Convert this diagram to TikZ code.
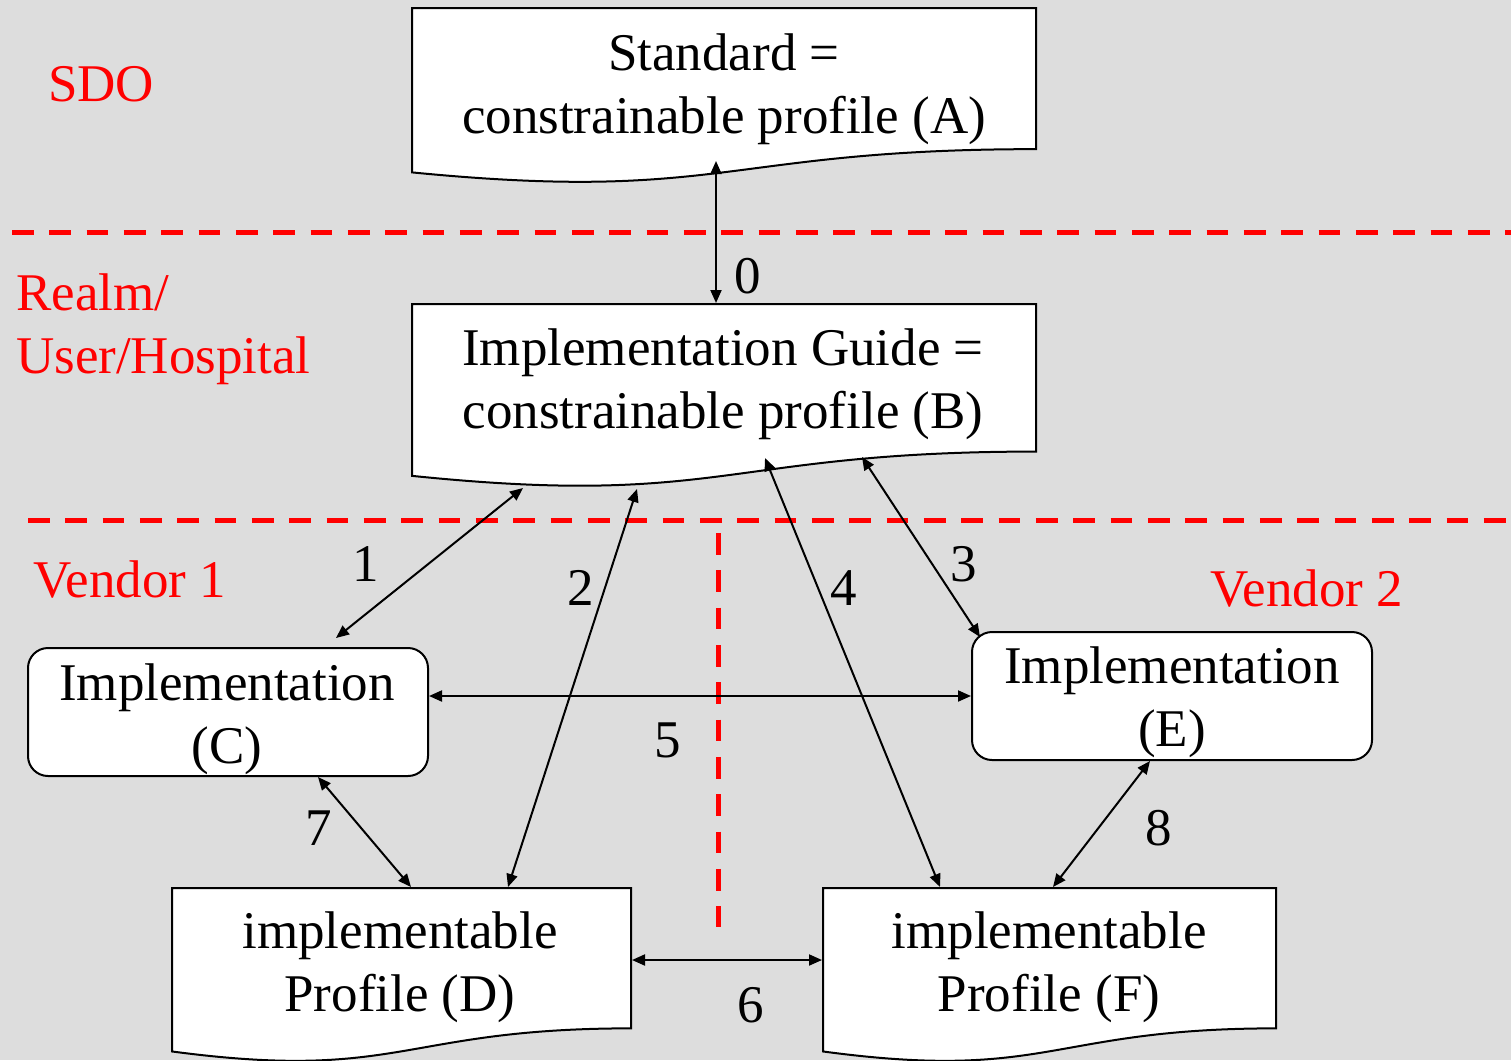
\documentclass[tikz,border=0pt]{standalone}
\usepackage{fontspec}
\setmainfont{Liberation Serif}
\usetikzlibrary{arrows.meta}
\definecolor{bg}{RGB}{221,221,221}
\definecolor{myred}{RGB}{255,0,0}
\newcommand{\twol}[2]{\begin{tabular}[t]{@{}c@{}}#1\\#2\end{tabular}}
\newcommand{\twoleft}[2]{\begin{tabular}[t]{@{}l@{}}#1\\#2\end{tabular}}
\newcommand{\docpath}[4]{%
  \path[docbox] (#1,#2) -- (#3,#2) -- (#3,{#2+0.802*#4})
    .. controls ({(#1+#3)/2},{#2+0.802*#4}) and ({(#1+#3)/2},{#2+1.108*#4}) .. (#1,{#2+0.934*#4}) -- cycle;}
\begin{document}
\begin{tikzpicture}[x=1pt,y=-1pt,
  lbl/.style={font=\fontsize{53}{63}\selectfont, inner sep=0pt, anchor=base},
  redlbl/.style={lbl, text=myred, anchor=base west},
  docbox/.style={draw=black, fill=white, line width=2pt},
  impl/.style={draw=black, fill=white, line width=2pt, rounded corners=20pt, minimum width=400pt, minimum height=128pt, inner sep=0pt},
  conn/.style={line width=2pt, {Triangle[length=13pt,width=11pt]}-{Triangle[length=13pt,width=11pt]}},
  sep/.style={draw=myred, line width=5pt, dash pattern=on 21.7pt off 15.63pt}]
\useasboundingbox (0,0) rectangle (1511,1060);
\fill[bg] (0,0) rectangle (1511,1060);
\begin{scope}
\clip (0,0) rectangle (1511,1060);
% separators
\draw[sep] (12,232) -- (1520,232);
\draw[sep] (28,520) -- (1520,520);
\draw[sep] (718,533) -- (718,927);
% document boxes
\docpath{412}{8}{1036}{176}
\docpath{412}{304}{1036}{184}
\docpath{172}{888}{631}{175}
\docpath{823}{888}{1276}{175}
\end{scope}
% rounded boxes
\node[impl] (C) at (228,712) {};
\node[impl] (E) at (1172,696) {};
% texts
\node[lbl] (A) at (724,70) {\twol{Standard =}{constrainable profile (A)}};
\node[lbl] (B) at (723,365) {\twol{Implementation Guide =}{constrainable profile (B)}};
\node[lbl] (Ct) at (227,700) {\twol{Implementation}{(C)}};
\node[lbl] (Et) at (1172,683) {\twol{Implementation}{(E)}};
\node[lbl] (D) at (400,948) {\twol{implementable}{Profile (D)}};
\node[lbl] (F) at (1049,948) {\twol{implementable}{Profile (F)}};
% red labels
\node[redlbl] (sdo) at (48,101) {SDO};
\node[redlbl] (realm) at (16,310) {\twoleft{Realm/}{User/Hospital}};
\node[redlbl] (v1) at (33,597) {Vendor 1};
\node[redlbl] (v2) at (1210,606) {Vendor 2};
% connector end points
\coordinate (a0) at (716,161); \coordinate (b0) at (716,303);
\coordinate (b1) at (523,488); \coordinate (c1) at (336,638);
\coordinate (b2) at (637,489); \coordinate (d2) at (508,887);
\coordinate (b3) at (862,457); \coordinate (e3) at (980,637);
\coordinate (b4) at (765,458); \coordinate (f4) at (940,887);
\coordinate (d6) at (632,960); \coordinate (f6) at (822,960);
\coordinate (c7) at (318,777); \coordinate (d7) at (411,887);
\coordinate (e8) at (1150,761); \coordinate (f8) at (1053,887);
% connectors
\draw[conn] (a0) -- (b0);
\draw[conn] (b1) -- (c1);
\draw[conn] (b2) -- (d2);
\draw[conn] (b3) -- (e3);
\draw[conn] (b4) -- (f4);
\draw[conn] (E.west -| C.east) -- (E.west);
\draw[conn] (d6) -- (f6);
\draw[conn] (c7) -- (d7);
\draw[conn] (e8) -- (f8);
% connector labels
\node[lbl] (l0) at (748,293) {0};
\node[lbl] (l1) at (366,581) {1};
\node[lbl] (l2) at (581,605) {2};
\node[lbl] (l3) at (964,581) {3};
\node[lbl] (l4) at (844,605) {4};
\node[lbl] (l5) at (668,757) {5};
\node[lbl] (l6) at (751,1022) {6};
\node[lbl] (l7) at (319,845) {7};
\node[lbl] (l8) at (1159,845) {8};
\end{tikzpicture}
\end{document}
